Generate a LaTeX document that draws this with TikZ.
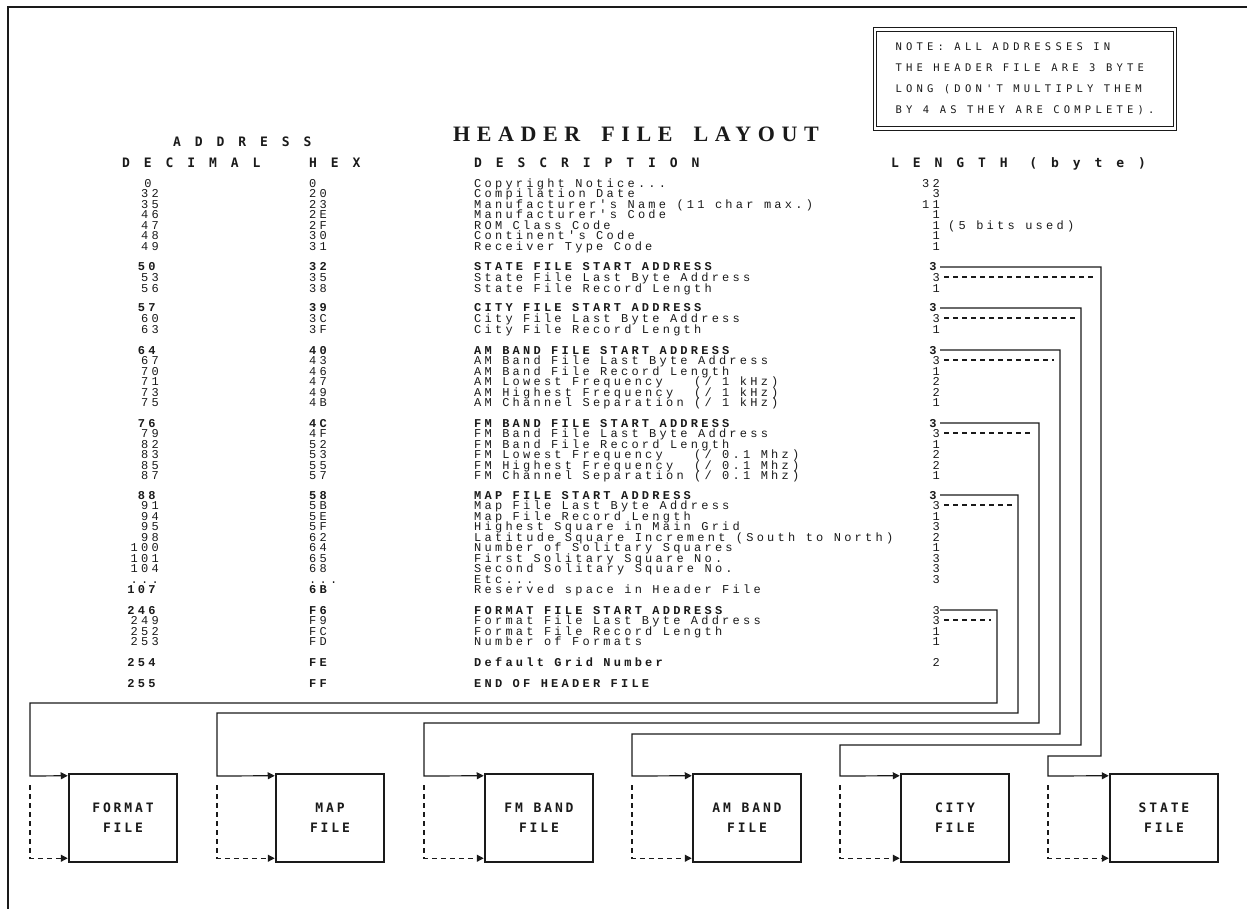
\documentclass[tikz,border=0pt]{standalone}
\usepackage{fontspec}
\usepackage{tikz}
\usetikzlibrary{arrows.meta, positioning}
\newfontfamily\rowfont[LetterSpace=27]{Liberation Mono}
\newfontfamily\headfont[LetterSpace=107]{DejaVu Sans Mono}
\newfontfamily\titlefont[LetterSpace=30]{Liberation Serif}
\newfontfamily\notefont[LetterSpace=40]{DejaVu Sans Mono}
\newfontfamily\boxfont[LetterSpace=22]{DejaVu Sans Mono}
\newcommand\rowdots{...}
\definecolor{inkline}{HTML}{1A1A1A}
\tikzset{
  % Table rows
  rowtxt/.style={
    font=\rowfont\fontsize{12}{10}\selectfont, inner sep=0pt,
    text height=8pt, text depth=0pt, text=inkline,
  },
  % Column headings
  headtxt/.style={
    font=\headfont\bfseries\fontsize{13}{14}\selectfont, inner sep=0pt,
    text height=9.5pt, text depth=0pt, text=inkline, anchor=west,
  },
  % Title
  titletxt/.style={
    font=\titlefont\bfseries\fontsize{22}{24}\selectfont, inner sep=0pt,
    text height=14.5pt, text depth=0pt, text=inkline,
  },
  % Note box
  notebox/.style={
    rectangle, draw=inkline, double, double distance=2.5pt, line width=1.1pt,
    minimum width=300pt, minimum height=99pt, align=left, text=inkline,
    font=\notefont\fontsize{10.5}{21}\selectfont,
  },
  % File boxes
  filebox/.style={
    rectangle, draw=inkline, line width=2.5pt, minimum width=108pt,
    minimum height=88pt, align=center, text=inkline,
    font=\boxfont\bfseries\fontsize{13}{20}\selectfont,
  },
  % Arrows
  startlink/.style={draw=inkline, line width=1.2pt, -{Triangle[length=7pt,width=7pt]}},
  lastlink/.style={draw=inkline, line width=1.2pt, dash pattern=on 5pt off 4pt},
}
\begin{document}
\begin{tikzpicture}[x=1pt, y=-1pt]

  \useasboundingbox (0,0) rectangle (1247,909);
  \draw[line width=1.5pt, inkline] (8,909) -- (8,7) -- (1247,7);

  % Note and title
  \node[notebox] (note) at (1025,79) {NOTE: ALL ADDRESSES IN\\THE HEADER FILE ARE 3 BYTE\\LONG (DON'T MULTIPLY THEM\\BY 4 AS THEY ARE COMPLETE).};
  \node[titletxt] (title) at (636,134) {HEADER\hspace{9pt} FILE\hspace{9pt} LAYOUT};

  % Column headings
  \node[headtxt] (haddr) at (173,142) {ADDRESS};
  \node[headtxt] (hdec) at (122,163) {DECIMAL};
  \node[headtxt] (hhex) at (309,163) {HEX};
  \node[headtxt] (hdesc) at (474,163) {DESCRIPTION};
  \node[headtxt] (hlen) at (891,163) {LENGTH (byte)};

  % Table rows
  \foreach \y/\dec/\hex/\desc in {
    184/0\phantom{0}/0/Copyright Notice\rowdots,
    194/32/20/Compilation Date,
    205/35/23/Manufacturer's Name (11 char max.),
    215/46/2E/Manufacturer's Code,
    226/47/2F/ROM Class Code,
    236/48/30/Continent's Code,
    247/49/31/Receiver Type Code,
    267/\textbf{50}/\textbf{32}/\textbf{STATE FILE START ADDRESS},
    277/53/35/State File Last Byte Address,
    288/56/38/State File Record Length,
    308/\textbf{57}/\textbf{39}/\textbf{CITY FILE START ADDRESS},
    318/60/3C/City File Last Byte Address,
    329/63/3F/City File Record Length,
    350/\textbf{64}/\textbf{40}/\textbf{AM BAND FILE START ADDRESS},
    360/67/43/AM Band File Last Byte Address,
    371/70/46/AM Band File Record Length,
    381/71/47/{AM Lowest Frequency~~~(/ 1 kHz)},
    392/73/49/{AM Highest Frequency~~(/ 1 kHz)},
    402/75/4B/{AM Channel Separation (/ 1 kHz)},
    423/\textbf{76}/\textbf{4C}/\textbf{FM BAND FILE START ADDRESS},
    433/79/4F/FM Band File Last Byte Address,
    444/82/52/FM Band File Record Length,
    454/83/53/{FM Lowest Frequency~~~(/ 0.1 Mhz)},
    465/85/55/{FM Highest Frequency~~(/ 0.1 Mhz)},
    475/87/57/{FM Channel Separation (/ 0.1 Mhz)},
    495/\textbf{88}/\textbf{58}/\textbf{MAP FILE START ADDRESS},
    505/91/5B/Map File Last Byte Address,
    516/94/5E/Map File Record Length,
    526/95/5F/Highest Square in Main Grid,
    537/98/62/Latitude Square Increment (South to North),
    547/100/64/Number of Solitary Squares,
    558/101/65/First Solitary Square No.,
    568/104/68/Second Solitary Square No.,
    579/\rowdots/\rowdots/Etc\rowdots,
    589/\textbf{107}/\textbf{6B}/Reserved space in Header File,
    610/\textbf{246}/\textbf{F6}/\textbf{FORMAT FILE START ADDRESS},
    620/249/F9/Format File Last Byte Address,
    631/252/FC/Format File Record Length,
    641/253/FD/Number of Formats,
    662/\textbf{254}/\textbf{FE}/\textbf{Default Grid Number},
    683/\textbf{255}/\textbf{FF}/\textbf{END OF HEADER FILE}}
  {
    \node[rowtxt, anchor=east] (dec-\y) at (159,\y) {\dec};
    \node[rowtxt, anchor=west] (hex-\y) at (309,\y) {\hex};
    \node[rowtxt, anchor=west] (desc-\y) at (474,\y) {\desc};
  }

  % Lengths
  \foreach \y/\len in {
    184/32, 194/3, 205/11, 215/1, 226/1, 236/1, 247/1,
    267/\textbf{3}, 277/3, 288/1,
    308/\textbf{3}, 318/3, 329/1,
    350/\textbf{3}, 360/3, 371/1, 381/2, 392/2, 402/1,
    423/\textbf{3}, 433/3, 444/1, 454/2, 465/2, 475/1,
    495/\textbf{3}, 505/3, 516/1, 526/3, 537/2, 547/1, 558/3, 568/3, 579/3,
    610/3, 620/3, 631/1, 641/1,
    662/2}
  {
    \node[rowtxt, anchor=east] (len-\y) at (940,\y) {\len};
  }
  \node[rowtxt, anchor=west, right=8pt of len-226] (bits) {(5 bits used)};

  % Files
  \node[filebox] (format) at (123,818) {FORMAT\\FILE};
  \node[filebox] (map) at (330,818) {MAP\\FILE};
  \node[filebox] (fmband) at (539,818) {FM BAND\\FILE};
  \node[filebox] (amband) at (747,818) {AM BAND\\FILE};
  \node[filebox] (city) at (955,818) {CITY\\FILE};
  \node[filebox] (state) at (1164,818) {STATE\\FILE};

  % Connectors
  \foreach \s/\d/\f/\xv/\yb/\xl in {
    267/277/state/1101/756/1048,
    308/318/city/1081/745/840,
    350/360/amband/1060/734/632,
    423/433/fmband/1039/723/424,
    495/505/map/1018/713/217,
    610/620/format/997/703/30}
  {
    \draw[startlink] (len-\s.east) -| (\xv,\yb) -| (\xl,776) -- ([yshift=-3pt]\f.north west);
    \draw[lastlink] ([xshift=4pt]len-\d.east) -- (\xv-6,\d);
    \draw[lastlink, -{Triangle[length=7pt,width=7pt]}] (\xl,785) |- ([yshift=5pt]\f.south west);
  }

\end{tikzpicture}
\end{document}
